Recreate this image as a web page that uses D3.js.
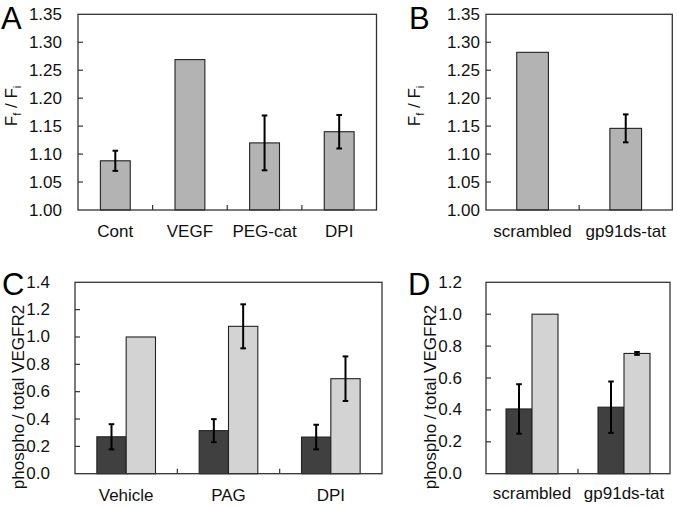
<!DOCTYPE html>
<html>
<head>
<meta charset="utf-8">
<script src="https://cdn.jsdelivr.net/npm/d3@7"></script>
<style>
  body { margin: 0; background: #fff; }
  svg { display: block; font-family: "Liberation Sans", Arial, Helvetica, sans-serif; }
</style>
</head>
<body>
<svg id="chart" width="677" height="507"></svg>
<script>
// ---------- DATA ----------
// Panel A
const catsA = ["Cont", "VEGF", "PEG-cat", "DPI"];
const valsA = [1.088, 1.269, 1.120, 1.140];
const errA  = [0.018, null, 0.049, 0.030];
const ticksA = [1.00, 1.05, 1.10, 1.15, 1.20, 1.25, 1.30, 1.35];

// Panel B
const catsB = ["scrambled", "gp91ds-tat"];
const valsB = [1.282, 1.146];
const errB  = [null, 0.025];
const ticksB = [1.00, 1.05, 1.10, 1.15, 1.20, 1.25, 1.30, 1.35];

// Panel C
const catsC = ["Vehicle", "PAG", "DPI"];
const darkC = [0.270, 0.315, 0.268];
const darkErrC = [0.092, 0.084, 0.090];
const lightC = [1.000, 1.078, 0.695];
const lightErrC = [null, 0.161, 0.163];
const ticksC = [0.0, 0.2, 0.4, 0.6, 0.8, 1.0, 1.2, 1.4];

// Panel D
const catsD = ["scrambled", "gp91ds-tat"];
const darkD = [0.406, 0.417];
const darkErrD = [0.155, 0.161];
const lightD = [1.000, 0.754];
const lightErrD = [null, 0.009];
const ticksD = [0.0, 0.2, 0.4, 0.6, 0.8, 1.0, 1.2];

// ---------- DRAWING ----------
const svg = d3.select("#chart");
const FONT = 17;

function panel(cfg) {
  const g = svg.append("g");
  const x = d3.scaleBand().domain(cfg.cats).range([cfg.x0, cfg.x1])
    .paddingInner(cfg.pad).paddingOuter(cfg.pad / 2);
  const y = d3.scaleLinear().domain(cfg.domain).range([cfg.yb, cfg.yt]);
  const step = x.step();

  // bars
  cfg.series.forEach((s, si) => {
    const nS = cfg.series.length;
    const bw = x.bandwidth() / nS;
    cfg.cats.forEach((c, i) => {
      const bx = x(c) + si * bw;
      g.append("rect")
        .attr("x", bx).attr("y", y(s.vals[i]))
        .attr("width", bw).attr("height", y(cfg.domain[0]) - y(s.vals[i]))
        .attr("fill", s.fill).attr("stroke", "#222").attr("stroke-width", 1.1);
      const e = s.err[i];
      if (e != null) {
        const cx = bx + bw / 2;
        const y1 = y(s.vals[i] + e), y2 = y(s.vals[i] - e);
        g.append("line").attr("x1", cx).attr("x2", cx).attr("y1", y1).attr("y2", y2)
          .attr("stroke", "#000").attr("stroke-width", 2);
        [y1, y2].forEach(yy => g.append("line")
          .attr("x1", cx - 2.8).attr("x2", cx + 2.8).attr("y1", yy).attr("y2", yy)
          .attr("stroke", "#000").attr("stroke-width", 2));
      }
    });
  });

  // frame
  g.append("rect").attr("x", cfg.x0).attr("y", cfg.yt)
    .attr("width", cfg.x1 - cfg.x0).attr("height", cfg.yb - cfg.yt)
    .attr("fill", "none").attr("stroke", "#333").attr("stroke-width", 1.3);

  // y ticks (inward) and labels
  cfg.ticks.forEach(t => {
    const yy = y(t);
    if (t > cfg.domain[0] && t < cfg.domain[1] - 1e-9) {
      g.append("line").attr("x1", cfg.x0).attr("x2", cfg.x0 + 5)
        .attr("y1", yy).attr("y2", yy).attr("stroke", "#333").attr("stroke-width", 1.2);
    }
    g.append("text").attr("x", cfg.labelRight).attr("y", yy)
      .attr("text-anchor", "end").attr("dominant-baseline", "central")
      .attr("font-size", FONT).attr("fill", "#111")
      .text(d3.format(cfg.fmt)(t));
  });

  // x ticks between categories (inward)
  for (let i = 1; i < cfg.cats.length; i++) {
    const xx = cfg.x0 + i * step;
    g.append("line").attr("x1", xx).attr("x2", xx).attr("y1", cfg.yb).attr("y2", cfg.yb - 5)
      .attr("stroke", "#333").attr("stroke-width", 1.2);
  }

  // category labels
  cfg.cats.forEach(c => {
    g.append("text").attr("x", x(c) + x.bandwidth() / 2).attr("y", cfg.catBase)
      .attr("text-anchor", "middle").attr("font-size", FONT).attr("fill", "#111").text(c);
  });

  // panel letter
  g.append("text").attr("x", cfg.letterX).attr("y", cfg.letterY)
    .attr("font-size", 31).attr("fill", "#000").text(cfg.letter);

  // y axis title
  const yt = g.append("text")
    .attr("transform", `translate(${cfg.titleX},${cfg.titleY}) rotate(-90)`)
    .attr("text-anchor", "middle").attr("font-size", FONT).attr("fill", "#111");
  if (cfg.titleSub) {
    yt.append("tspan").text("F");
    yt.append("tspan").attr("dy", 4).attr("font-size", 11).text("f");
    yt.append("tspan").attr("dy", -4).text(" / F");
    yt.append("tspan").attr("dy", 4).attr("font-size", 11).text("i");
  } else {
    yt.text(cfg.title);
  }
}

panel({
  letter: "A", letterX: 1, letterY: 28.5,
  cats: catsA, series: [{ vals: valsA, err: errA, fill: "#b3b3b3" }],
  x0: 78, x1: 376.5, yt: 14.3, yb: 210, pad: 0.6,
  domain: [1.0, 1.35], ticks: ticksA, fmt: ".2f", labelRight: 62,
  catBase: 237, titleX: 17, titleY: 106, titleSub: true
});

panel({
  letter: "B", letterX: 409, letterY: 28.5,
  cats: catsB, series: [{ vals: valsB, err: errB, fill: "#b3b3b3" }],
  x0: 486, x1: 672.3, yt: 14.3, yb: 210, pad: 0.66,
  domain: [1.0, 1.35], ticks: ticksB, fmt: ".2f", labelRight: 480,
  catBase: 237, titleX: 420, titleY: 106, titleSub: true
});

panel({
  letter: "C", letterX: 2, letterY: 295,
  cats: catsC, series: [
    { vals: darkC, err: darkErrC, fill: "#404040" },
    { vals: lightC, err: lightErrC, fill: "#d3d3d3" }],
  x0: 75, x1: 382, yt: 282.3, yb: 473.7, pad: 0.427,
  domain: [0, 1.4], ticks: ticksC, fmt: ".1f", labelRight: 50,
  catBase: 501, titleX: 24, titleY: 397, title: "phospho / total VEGFR2"
});

panel({
  letter: "D", letterX: 408, letterY: 295,
  cats: catsD, series: [
    { vals: darkD, err: darkErrD, fill: "#404040" },
    { vals: lightD, err: lightErrD, fill: "#d3d3d3" }],
  x0: 486, x1: 670, yt: 282.3, yb: 473.7, pad: 0.435,
  domain: [0, 1.2], ticks: ticksD, fmt: ".1f", labelRight: 462,
  catBase: 499, titleX: 436, titleY: 397, title: "phospho / total VEGFR2"
});
</script>
</body>
</html>
